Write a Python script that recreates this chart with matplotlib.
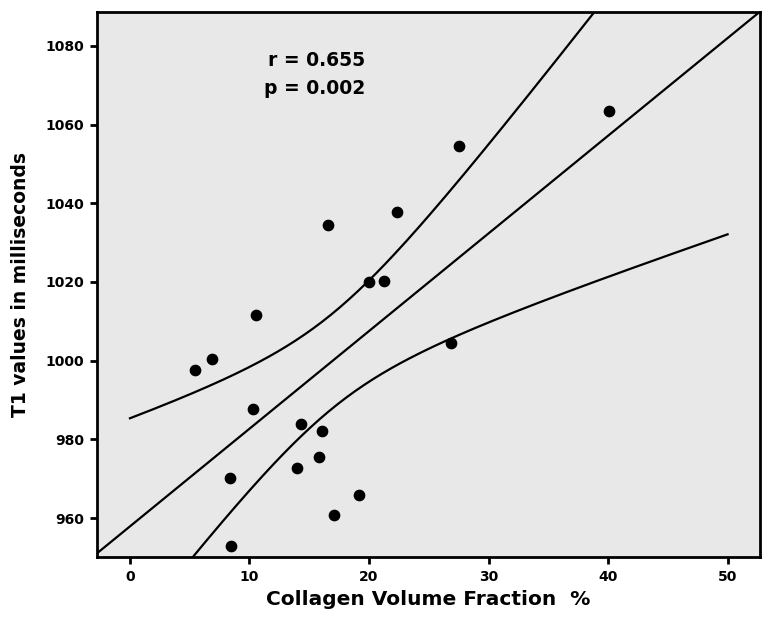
import numpy as np
import matplotlib
matplotlib.use("Agg")
import matplotlib.pyplot as plt

# Puntos: fraccion de volumen de colageno (%) vs T1 (ms)
cvf = [40.1, 27.5, 22.3, 21.25, 16.6, 20.0, 10.54, 6.89, 5.44, 10.27,
       14.28, 16.04, 15.8, 14.0, 8.37, 19.19, 17.07, 8.42, 26.86]
t1 = [1063.5, 1054.6, 1037.7, 1020.2, 1034.4, 1020.0, 1011.7, 1000.4, 997.6,
      987.7, 984.0, 982.1, 975.4, 972.7, 970.3, 965.9, 960.8, 952.8, 1004.5]

r_text = "r = 0.655"
p_text = "p = 0.002"
x_ticks = [0, 10, 20, 30, 40, 50]
y_ticks = [960, 980, 1000, 1020, 1040, 1060, 1080]

x = np.array(cvf)
y = np.array(t1)
n = len(x)

# Recta de regresion e intervalo de confianza (95%) de la media
slope, intercept = np.polyfit(x, y, 1)
resid = y - (slope * x + intercept)
s = np.sqrt(np.sum(resid ** 2) / (n - 2))
sxx = np.sum((x - x.mean()) ** 2)
t_crit = 2.110  # t(0.975, 17)

xl = np.linspace(-5, 55, 200)
xb = np.linspace(0, 50, 200)
yb = slope * xb + intercept
half = t_crit * s * np.sqrt(1 / n + (xb - x.mean()) ** 2 / sxx)

fig = plt.figure(figsize=(7.66, 6.21), dpi=100)
ax = fig.add_axes([0.1266, 0.103, 0.8654, 0.8777])
ax.set_facecolor("#e8e8e8")

ax.plot(xl, slope * xl + intercept, color="black", lw=1.6)
ax.plot(xb, yb + half, color="black", lw=1.6)
ax.plot(xb, yb - half, color="black", lw=1.6)
ax.scatter(x, y, s=55, color="black", zorder=3)

ax.set_xlim(-2.76, 52.7)
ax.set_ylim(950.1, 1088.6)
ax.set_xticks(x_ticks)
ax.set_yticks(y_ticks)
ax.tick_params(width=2, length=5, labelsize=10, pad=4)
for lab in ax.get_xticklabels() + ax.get_yticklabels():
    lab.set_fontweight("bold")
for sp in ax.spines.values():
    sp.set_linewidth(2)

ax.set_xlabel("Collagen Volume Fraction  %", fontsize=14.5, fontweight="bold", labelpad=5)
ax.set_ylabel("T1 values in milliseconds", fontsize=13.5, fontweight="bold", labelpad=11)

fig.text(365 / 766, 1 - 61 / 621, r_text, ha="right", va="center",
         fontsize=13.5, fontweight="bold")
fig.text(365 / 766, 1 - 89 / 621, p_text, ha="right", va="center",
         fontsize=13.5, fontweight="bold")

fig.savefig("out.png", dpi=100)
